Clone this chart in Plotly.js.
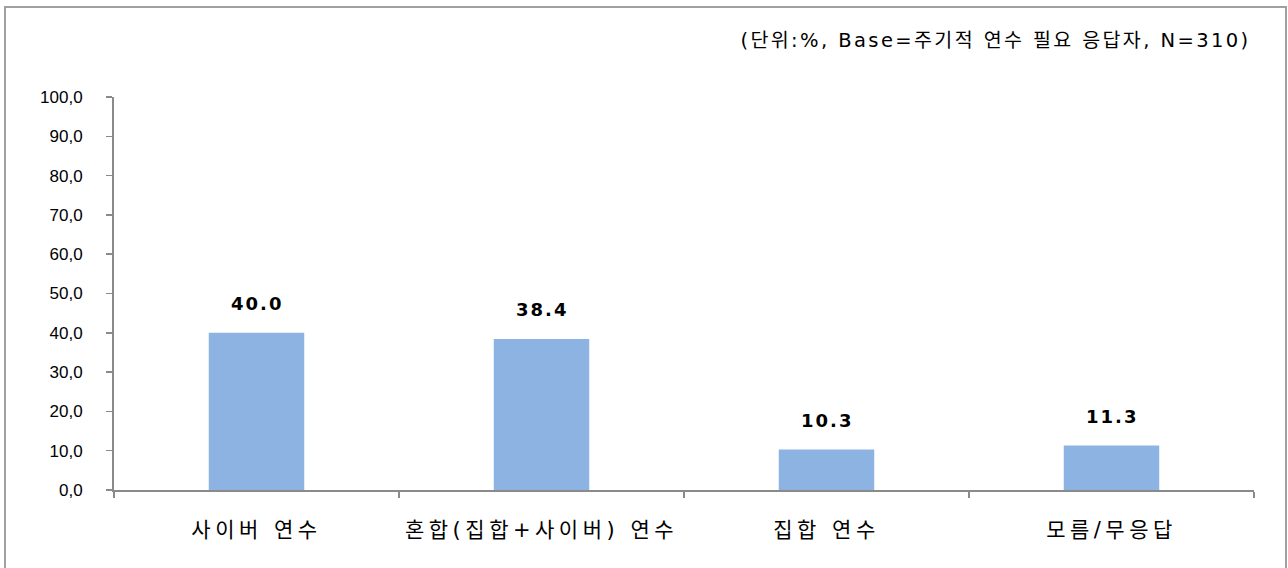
<!DOCTYPE html>
<html>
<head>
<meta charset="utf-8">
<script src="https://cdn.plot.ly/plotly-3.0.1.min.js"></script>
<style>
  html, body { margin: 0; padding: 0; background: #ffffff; }
  #chart { width: 1288px; height: 568px; }
  #chart g.xtick text { letter-spacing: 4.5px; }
  #chart g.annotation[data-index="0"] text,
  #chart g.annotation[data-index="1"] text,
  #chart g.annotation[data-index="2"] text,
  #chart g.annotation[data-index="3"] text { letter-spacing: 2px; }
  #chart g.annotation[data-index="4"] text { letter-spacing: 2.4px; }
</style>
</head>
<body>
<div id="chart"></div>
<script>
const categories = ["사이버 연수", "혼합(집합+사이버) 연수", "집합 연수", "모름/무응답"];
const values = [40.0, 38.4, 10.3, 11.3];
const valueLabels = ["40.0", "38.4", "10.3", "11.3"];
const yTickVals = [0, 10, 20, 30, 40, 50, 60, 70, 80, 90, 100];
const yTickText = ["0,0", "10,0", "20,0", "30,0", "40,0", "50,0", "60,0", "70,0", "80,0", "90,0", "100,0"];
const noteText = "(단위:%, Base=주기적 연수 필요 응답자, N=310)";

const axisColor = "#8a8a8a";
const barColor = "#8db3e2";

const trace = {
  type: "bar",
  x: categories,
  y: values,
  marker: { color: barColor },
  width: 0.335,
  hoverinfo: "x+y"
};

const annotations = categories.map((c, i) => ({
  x: c, y: values[i], xref: "x", yref: "y",
  text: "<b>" + valueLabels[i] + "</b>",
  showarrow: false, yanchor: "bottom", yshift: 17,
  font: { family: "DejaVu Sans, sans-serif", size: 18, color: "#000000" }
}));
annotations.push({
  xref: "paper", yref: "paper", x: (995 - 114) / 1140, y: 1.143,
  xanchor: "center", yanchor: "middle",
  text: noteText, showarrow: false,
  font: { family: "DejaVu Sans, Noto Sans CJK KR, sans-serif", size: 19.5, color: "#000000" }
});

const layout = {
  width: 1288, height: 568,
  margin: { l: 114, r: 34, t: 97, b: 78, pad: 0 },
  paper_bgcolor: "#ffffff",
  plot_bgcolor: "#ffffff",
  showlegend: false,
  xaxis: {
    type: "category",
    showline: true, linecolor: axisColor, linewidth: 2,
    ticks: "outside", tickson: "boundaries", ticklen: 6, tickcolor: axisColor, tickwidth: 1.5,
    ticklabelstandoff: 20,
    tickfont: { family: "DejaVu Sans, Noto Sans CJK KR, sans-serif", size: 21, color: "#000000" },
    showgrid: false, zeroline: false, fixedrange: true
  },
  yaxis: {
    range: [0, 100],
    tickmode: "array", tickvals: yTickVals, ticktext: yTickText,
    showline: true, linecolor: axisColor, linewidth: 2,
    ticks: "outside", ticklen: 6, tickcolor: axisColor, tickwidth: 1.5,
    ticklabelstandoff: 20,
    tickfont: { family: "Liberation Sans, Arial, sans-serif", size: 17, color: "#000000" },
    showgrid: false, zeroline: false, fixedrange: true
  },
  annotations: annotations,
  shapes: [{
    type: "rect", xref: "paper", yref: "paper",
    x0: (5 - 114) / 1140, x1: (1286 - 114) / 1140,
    y0: (490 - 575) / 393, y1: (490 - 7) / 393,
    line: { color: "#a0a0a0", width: 2 }, fillcolor: "rgba(0,0,0,0)", layer: "below"
  }]
};

Plotly.newPlot("chart", [trace], layout, { displayModeBar: false, staticPlot: true });
</script>
</body>
</html>
